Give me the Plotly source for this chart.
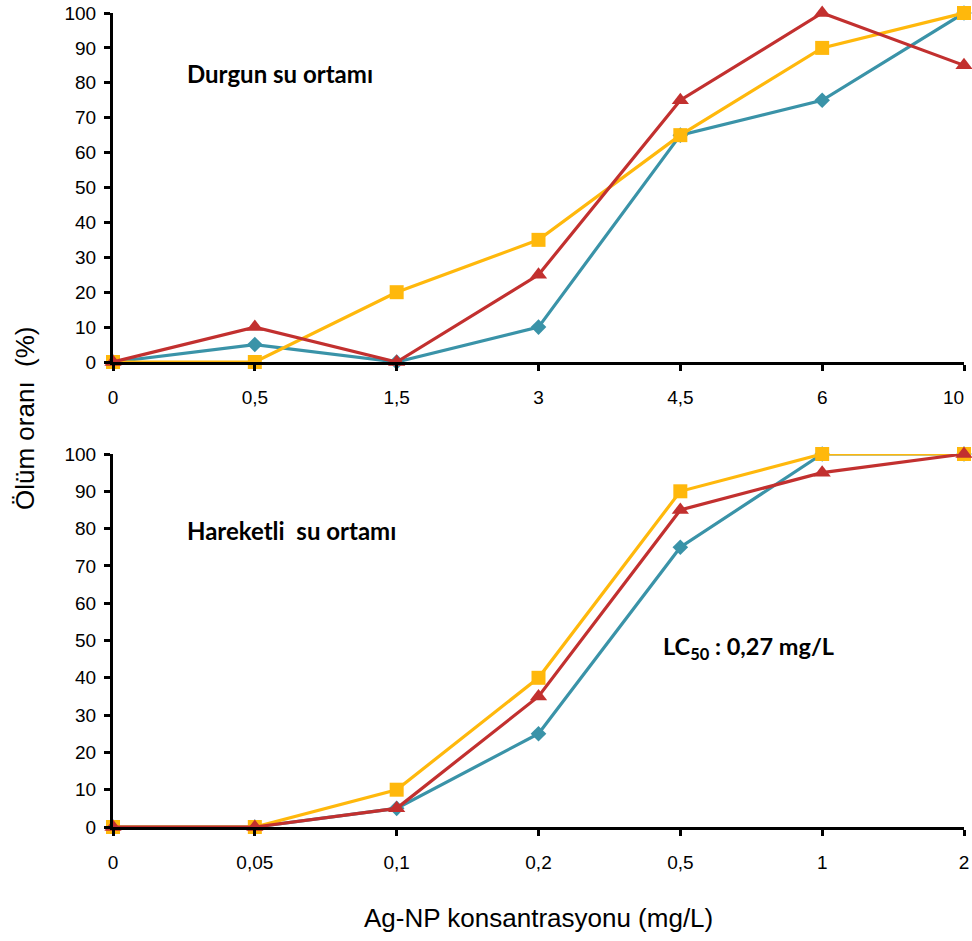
import plotly.graph_objects as go

# Concentrations (mg/L) for each test medium
still_conc = ["0", "0,5", "1,5", "3", "4,5", "6", "10"]
flow_conc = ["0", "0,05", "0,1", "0,2", "0,5", "1", "2"]

# Mortality (%) - still water
still_teal = [0, 5, 0, 10, 65, 75, 100]
still_yellow = [0, 0, 20, 35, 65, 90, 100]
still_red = [0, 10, 0, 25, 75, 100, 85]

# Mortality (%) - flowing water
flow_teal = [0, 0, 5, 25, 75, 100, 100]
flow_yellow = [0, 0, 10, 40, 90, 100, 100]
flow_red = [0, 0, 5, 35, 85, 95, 100]

y_ticks = list(range(0, 101, 10))

TEAL = "#3A93A8"
YELLOW = "#FFB80C"
RED = "#C2302F"

W, H = 972, 941
x0, x1 = 113 / W, 964 / W
top_dom = [(H - 362) / H, (H - 13) / H]
bot_dom = [(H - 827) / H, (H - 454) / H]

fig = go.Figure()

series = [
    (TEAL, "diamond", 12),
    (YELLOW, "square", 14),
    (RED, "triangle-up", 15),
]

for (color, sym, size), ys in zip(series, [still_teal, still_yellow, still_red]):
    fig.add_trace(go.Scatter(
        x=still_conc, y=ys, xaxis="x", yaxis="y", mode="lines+markers",
        line=dict(color=color, width=3.2), marker=dict(symbol=sym, size=size, color=color),
        cliponaxis=False, showlegend=False))

for (color, sym, size), ys in zip(series, [flow_teal, flow_yellow, flow_red]):
    fig.add_trace(go.Scatter(
        x=flow_conc, y=ys, xaxis="x2", yaxis="y2", mode="lines+markers",
        line=dict(color=color, width=3.2), marker=dict(symbol=sym, size=size, color=color),
        cliponaxis=False, showlegend=False))

tick_font = dict(family="Liberation Sans, Arial, sans-serif", size=19, color="#000")


def xaxis(anchor, cats, last_inline=True):
    # the last label of a wide category is drawn separately, nudged inside the page
    text = list(cats) if last_inline else list(cats[:-1]) + [""]
    return dict(
        domain=[x0, x1], anchor=anchor, type="category",
        categoryorder="array", categoryarray=cats,
        tickmode="array", tickvals=cats, ticktext=text,
        range=[0, len(cats) - 1], automargin=False,
        showline=True, linecolor="#000", linewidth=3,
        ticks="outside", ticklen=6, tickwidth=2.5, tickcolor="#000",
        showgrid=False, zeroline=False, tickfont=tick_font,
        ticklabelstandoff=10,
    )


def yaxis(anchor, dom):
    return dict(
        domain=dom, anchor=anchor, range=[0, 100], automargin=False,
        tickvals=y_ticks,
        showline=True, linecolor="#000", linewidth=3,
        ticks="outside", ticklen=6, tickwidth=2.5, tickcolor="#000",
        showgrid=False, zeroline=False, tickfont=tick_font,
        ticklabelstandoff=4,
    )


label_font = dict(family="Lato, Open Sans, sans-serif", size=24, color="#000")

last_idx = len(still_conc) - 1

fig.update_layout(
    width=W, height=H,
    margin=dict(l=0, r=0, t=0, b=0),
    paper_bgcolor="white", plot_bgcolor="white",
    xaxis=xaxis("y", still_conc, last_inline=False),
    yaxis=yaxis("x", top_dom),
    xaxis2=xaxis("y2", flow_conc),
    yaxis2=yaxis("x2", bot_dom),
    annotations=[
        dict(text=still_conc[last_idx], x=last_idx, y=0, xref="x", yref="y",
             xanchor="center", yanchor="top", xshift=-11, yshift=-23,
             showarrow=False, font=tick_font),
        dict(text="<b>Durgun su ortamı</b>", x=185 / W, y=(H - 74) / H,
             xref="paper", yref="paper", xanchor="left", yanchor="middle",
             showarrow=False, font=label_font),
        dict(text="<b>Hareketli  su ortamı</b>", x=185 / W, y=(H - 530) / H,
             xref="paper", yref="paper", xanchor="left", yanchor="middle",
             showarrow=False, font=label_font),
        dict(text="<b>LC<sub>50</sub> : 0,27 mg/L</b>", x=661 / W, y=(H - 648) / H,
             xref="paper", yref="paper", xanchor="left", yanchor="middle",
             showarrow=False, font=dict(family="Lato, Open Sans, sans-serif", size=23.5, color="#000")),
        dict(text="Ag-NP konsantrasyonu (mg/L)", x=538 / W, y=(H - 918) / H,
             xref="paper", yref="paper", xanchor="center", yanchor="middle",
             showarrow=False,
             font=dict(family="Liberation Sans, Arial, sans-serif", size=26, color="#000")),
        dict(text="Ölüm oranı  (%)", x=25 / W, y=(H - 418) / H,
             xref="paper", yref="paper", xanchor="center", yanchor="middle",
             textangle=-90, showarrow=False,
             font=dict(family="Liberation Sans, Arial, sans-serif", size=26, color="#000")),
    ],
)

fig.write_html("out.html", post_script="document.body.style.margin='0';")
